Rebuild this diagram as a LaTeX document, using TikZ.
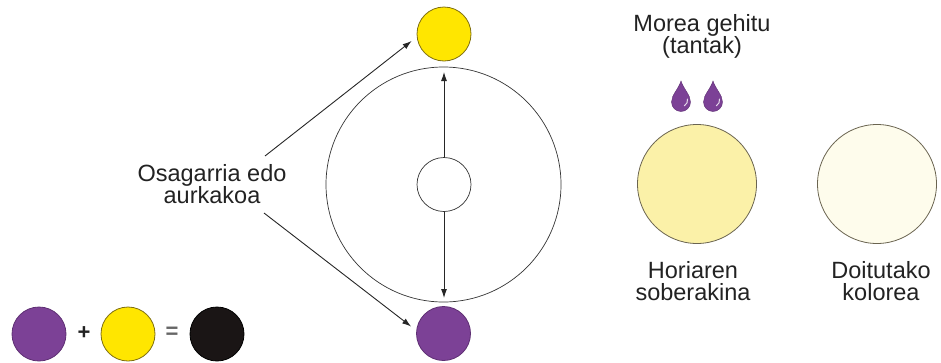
\documentclass[tikz,border=0pt]{standalone}
\usepackage{fontspec}
\setmainfont{Liberation Sans}
\usetikzlibrary{arrows.meta,calc}
\definecolor{purp}{HTML}{7C4196}
\definecolor{purpedge}{HTML}{5E2F73}
\definecolor{yel}{HTML}{FFE600}
\definecolor{yeledge}{HTML}{7E6E10}
\definecolor{blk}{HTML}{1A1515}
\definecolor{lyel}{HTML}{FBF1A8}
\definecolor{cream}{HTML}{FEFCEC}
\definecolor{ringedge}{HTML}{6A6450}
\definecolor{txt}{HTML}{222222}
\tikzset{
  disc/.style={circle, inner sep=0pt, minimum size=#1, line width=0.8pt},
  lbl/.style={align=center, text=txt, font=\fontsize{23.5}{22}\selectfont, inner sep=0pt},
  arr/.style={line width=0.9pt, draw=black!85, -{Latex[length=9pt,width=6pt]}},
  ring/.style={circle, inner sep=0pt, draw=black!80, line width=0.7pt}
}
\begin{document}
\begin{tikzpicture}[x=1pt,y=-1pt]
\useasboundingbox (0,0) rectangle (941,362);
% central rings
\node[ring, minimum size=235pt] (big) at (443.5,184.5) {};
\node[ring, minimum size=54pt] (small) at (444,184.5) {};
% top and bottom discs
\node[disc=54pt, fill=yel, draw=yeledge] (ytop) at (444,34) {};
\node[disc=54pt, fill=purp, draw=purpedge] (pbot) at (443.5,333.5) {};
% vertical arrows
\coordinate (vt) at (444,72);
\coordinate (vb) at (444,298);
\draw[arr] (small.north) -- (vt);
\draw[arr] (small.south) -- (vb);
% label and diagonal arrows
\node[lbl] (osa) at (212,184) {Osagarria edo\\aurkakoa};
\coordinate (s1) at (265,156);
\coordinate (s2) at (264,213);
\draw[arr] (s1) -- ([shift={(-5,7)}]ytop.west);
\draw[arr] (s2) -- ([shift={(-5,-7)}]pbot.west);
% bottom-left equation
\node[disc=54pt, fill=purp, draw=purpedge] (p1) at (39,334) {};
\node[text=txt, font=\fontsize{22}{22}\selectfont\bfseries, inner sep=0pt] (plus) at (84,333) {+};
\node[disc=54pt, fill=yel, draw=yeledge] (y1) at (128,334) {};
\node[text=black!60, font=\fontsize{22}{22}\selectfont\bfseries, inner sep=0pt] (eq) at (172,333) {=};
\node[disc=54pt, fill=blk, draw=black] (b1) at (217,334) {};
% right part
\node[lbl] (morea) at (702,36) {Morea gehitu\\(tantak)};
\foreach \dx/\nm in {681/d1,713/d2}{
  \fill[purp, draw=purpedge, line width=0.4pt] (\dx,81)
    .. controls (\dx+2.5,89) and (\dx+9.5,95) .. (\dx+9.5,102)
    arc (0:180:9.5)
    .. controls (\dx-9.5,95) and (\dx-2.5,89) .. (\dx,81) -- cycle;
  \draw[white!80!purp, line width=1pt, line cap=round] (\dx+6.5,99) arc (-10:60:6.5);
}
\node[disc=119pt, fill=lyel, draw=ringedge] (hor) at (697,184) {};
\node[disc=119pt, fill=cream, draw=ringedge] (doi) at (877,184) {};
\node[lbl] (horl) at (693,281) {Horiaren\\soberakina};
\node[lbl] (doil) at (881,281) {Doitutako\\kolorea};
\end{tikzpicture}
\end{document}
